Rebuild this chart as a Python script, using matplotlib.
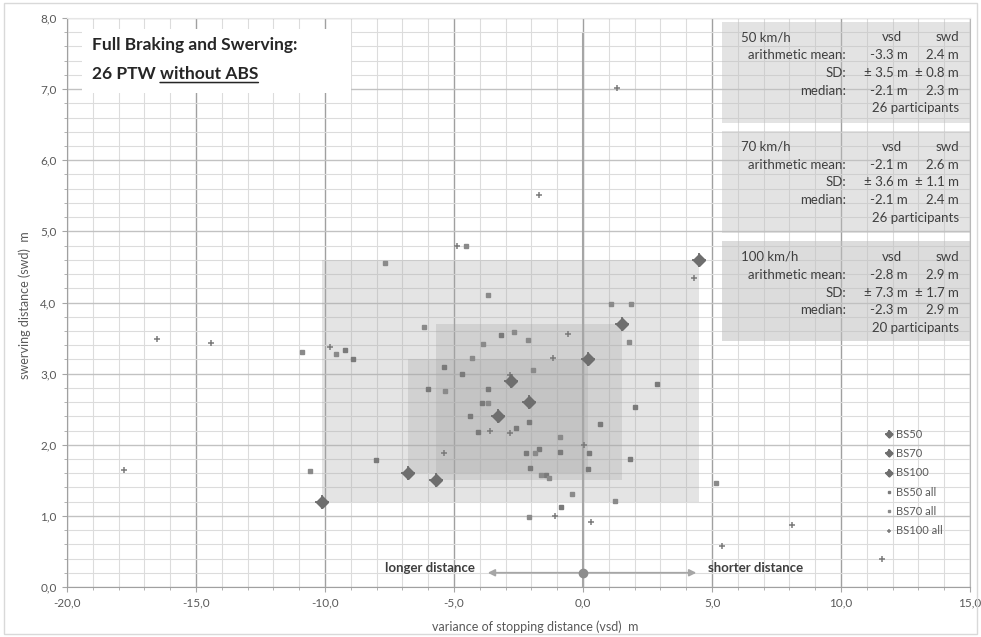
import matplotlib
matplotlib.use("Agg")
import matplotlib.pyplot as plt
from matplotlib.patches import Rectangle
from matplotlib.ticker import MultipleLocator, FuncFormatter
from matplotlib.legend_handler import HandlerTuple

plt.rcParams["font.family"] = ["Lato", "DejaVu Sans"]

# ---- summary statistics per speed (vsd / swd in m) ----
speeds = ["50 km/h", "70 km/h", "100 km/h"]
series_names = ["BS50", "BS70", "BS100"]
mean_vsd = [-3.3, -2.1, -2.8]
mean_swd = [2.4, 2.6, 2.9]
sd_vsd = [3.5, 3.6, 7.3]
sd_swd = [0.8, 1.1, 1.7]
median_vsd = [-2.1, -2.1, -2.3]
median_swd = [2.3, 2.4, 2.9]
participants = [26, 26, 20]

# ---- individual runs ----
bs50_all_vsd = [-9.22, -8.91, -8.02, -6.0, -5.37, -4.70, -4.38, -4.06, -3.90, -3.69,
                -3.17, -2.58, -2.20, -2.09, -2.05, -1.72, -1.45, -0.84, -0.90, 0.21,
                0.22, 0.64, 1.81, 2.02, 2.87]
bs50_all_swd = [3.33, 3.20, 1.79, 2.78, 3.09, 2.99, 2.41, 2.18, 2.59, 2.78,
                3.54, 2.23, 1.88, 2.32, 1.68, 1.94, 1.58, 1.12, 1.90, 1.66,
                1.88, 2.29, 1.80, 2.53, 2.85]

bs70_all_vsd = [-9.59, -10.9, -10.6, -7.67, -6.15, -5.35, -4.53, -4.29, -3.88, -3.69,
                -3.69, -2.69, -2.12, -2.11, -1.95, -1.85, -1.61, -1.32, -0.90, -0.43,
                1.07, 1.24, 1.77, 1.85, 5.16]
bs70_all_swd = [3.27, 3.31, 1.63, 4.56, 3.66, 2.76, 4.80, 3.22, 3.41, 4.10,
                2.59, 3.59, 3.47, 0.99, 3.05, 1.88, 1.58, 1.53, 2.11, 1.31,
                3.98, 1.21, 3.45, 3.98, 1.46]

bs100_all_vsd = [1.32, -1.7, -4.88, -16.5, -14.4, -17.8, 11.58, 8.09, 5.37, 4.30,
                 -9.82, -0.57, -1.17, -2.83, -3.60, -2.84, 0.05, -5.40, -1.07, 0.31]
bs100_all_swd = [7.02, 5.51, 4.80, 3.48, 3.43, 1.65, 0.40, 0.87, 0.58, 4.35,
                 3.38, 3.56, 3.22, 2.98, 2.19, 2.17, 2.00, 1.89, 1.00, 0.91]

x_ticks = [-20, -15, -10, -5, 0, 5, 10, 15]
y_ticks = [0, 1, 2, 3, 4, 5, 6, 7, 8]

TXT = "#3f3f3f"
TICK = "#595959"

fig = plt.figure(figsize=(9.81, 6.37), dpi=100)
fig.patches.append(Rectangle((0.004, 0.004), 0.992, 0.992, transform=fig.transFigure,
                             fill=False, ec="#d9d9d9", lw=1))
ax = fig.add_axes([0.0683, 0.0785, 0.9205, 0.8932])
ax.set_xlim(x_ticks[0], x_ticks[-1])
ax.set_ylim(y_ticks[0], y_ticks[-1])

ax.set_xticks(x_ticks)
ax.set_yticks(y_ticks)
ax.xaxis.set_minor_locator(MultipleLocator(1))
ax.yaxis.set_minor_locator(MultipleLocator(0.2))
fmt = FuncFormatter(lambda v, p: f"{v:.1f}".replace(".", ","))
ax.xaxis.set_major_formatter(fmt)
ax.yaxis.set_major_formatter(fmt)
ax.set_axisbelow(True)
ax.grid(which="minor", color="#dcdcdc", lw=0.8)
ax.xaxis.grid(which="major", color="#a0a0a0", lw=1.0)
ax.yaxis.grid(which="major", color="#c2c2c2", lw=1.0)
ax.tick_params(which="both", direction="out", color="#a6a6a6", labelsize=8.5,
               labelcolor=TICK)
ax.tick_params(which="major", length=3.5, pad=4)
ax.tick_params(which="minor", length=2.5)
for side, col in [("left", "#a0a0a0"), ("bottom", "#a0a0a0"), ("right", "#b8b8b8"),
                  ("top", "#e6e6e6")]:
    ax.spines[side].set_color(col)

ax.set_xlabel("variance of stopping distance (vsd)  m", fontsize=9, color=TICK)
ax.set_ylabel("swerving distance (swd)  m", fontsize=9, color=TICK)
ax.xaxis.set_label_coords(0.518, -0.058)
ax.yaxis.set_label_coords(-0.040, 0.496)

# mean +/- SD areas
for mv, ms_, sv, ss in zip(mean_vsd, mean_swd, sd_vsd, sd_swd):
    ax.add_patch(Rectangle((mv - sv, ms_ - ss), 2 * sv, 2 * ss, fc="#a6a6a6",
                           alpha=0.3, lw=0, zorder=1))

# zero reference line and direction arrows
ax.plot([0, 0], [0, 7.78], color="#a6a6a6", lw=1.5, zorder=2)
ax.annotate("", xy=(-3.8, 0.2), xytext=(0, 0.2),
            arrowprops=dict(arrowstyle="-|>", color="#a6a6a6", lw=1.3,
                            mutation_scale=10), zorder=3)
ax.annotate("", xy=(4.5, 0.2), xytext=(0, 0.2),
            arrowprops=dict(arrowstyle="-|>", color="#a6a6a6", lw=1.3,
                            mutation_scale=10), zorder=3)
ax.plot([0], [0.2], "o", color="#8c8c8c", ms=6, zorder=4)
ax.text(-4.2, 0.27, "longer distance", ha="right", va="center", fontsize=9.5,
        fontweight="bold", color=TXT, zorder=5)
ax.text(4.85, 0.27, "shorter distance", ha="left", va="center", fontsize=9.5,
        fontweight="bold", color=TXT, zorder=5)

# individual runs
h50a, = ax.plot(bs50_all_vsd, bs50_all_swd, ls="none", marker="s", ms=3,
                color="#7a7a7a", zorder=4)
h70a, = ax.plot(bs70_all_vsd, bs70_all_swd, ls="none", marker="s", ms=3,
                color="#8a8a8a", zorder=4)
h100a, = ax.plot(bs100_all_vsd, bs100_all_swd, ls="none", marker="+", ms=4,
                 mew=1.1, color="#7a7a7a", zorder=4)

# mean and +/- SD corners per speed
summary_handles = []
for name, mv, ms_, sv, ss in zip(series_names, mean_vsd, mean_swd, sd_vsd, sd_swd):
    xs = [mv - sv, mv, mv + sv]
    ys = [ms_ - ss, ms_, ms_ + ss]
    hd, = ax.plot(xs, ys, ls="none", marker="D", ms=6, color="#6e6e6e", zorder=5)
    hp, = ax.plot(xs, ys, ls="none", marker="+", ms=10, mew=1.3, color="#6e6e6e",
                  zorder=5)
    summary_handles.append((hd, hp))

leg = ax.legend(summary_handles + [h50a, h70a, h100a],
                series_names + ["BS50 all", "BS70 all", "BS100 all"],
                handler_map={tuple: HandlerTuple(ndivide=1)},
                loc="upper left", bbox_to_anchor=(0.905, 0.278), frameon=False,
                fontsize=8, handlelength=0.8, handletextpad=0.3, labelspacing=0.75,
                borderpad=0, borderaxespad=0, markerscale=0.6)
for t in leg.get_texts():
    t.set_color(TICK)

# statistics panels
box_tops = [7.95, 6.41, 4.86]
box_bottoms = [6.52, 4.98, 3.46]
box_alpha = [0.43, 0.43, 0.55]
X_HEAD, X_LAB, X_VSD, X_SWD = 6.12, 10.2, 12.6, 14.57
STEP = 0.25
for i in range(3):
    ax.add_patch(Rectangle((5.39, box_bottoms[i]), x_ticks[-1] - 5.39,
                           box_tops[i] - box_bottoms[i], fc="#c0c0c0",
                           alpha=box_alpha[i], lw=0, zorder=2))
    y0 = box_tops[i] - 0.22
    kw = dict(fontsize=9.5, color=TXT, va="center", zorder=6)
    ax.text(X_HEAD, y0, speeds[i], ha="left", **kw)
    ax.text(11.98, y0, "vsd", ha="center", **kw)
    ax.text(X_SWD, y0, "swd", ha="right", **kw)
    rows = [("arithmetic mean:", f"{mean_vsd[i]:.1f} m", f"{mean_swd[i]:.1f} m"),
            ("SD:", f"\u00b1 {sd_vsd[i]:.1f} m", f"\u00b1 {sd_swd[i]:.1f} m"),
            ("median:", f"{median_vsd[i]:.1f} m", f"{median_swd[i]:.1f} m")]
    for r, (lab, v1, v2) in enumerate(rows):
        yy = y0 - STEP * (r + 1)
        ax.text(X_LAB, yy, lab, ha="right", **kw)
        ax.text(X_VSD, yy, v1, ha="right", **kw)
        ax.text(X_SWD, yy, v2, ha="right", **kw)
    ax.text(X_SWD, y0 - STEP * 4, f"{participants[i]} participants", ha="right", **kw)

# title panel
ax.add_patch(Rectangle((-19.4, 6.94), 10.4, 0.91, fc="white", lw=0, zorder=3))
tkw = dict(fontsize=12.5, fontweight="bold", color="#262626", zorder=6)
ax.text(-19.03, 7.62, "Full Braking and Swerving:", ha="left", va="center", **tkw)
t1 = ax.text(-19.03, 7.21, "26 PTW ", ha="left", va="center", **tkw)
t2 = ax.annotate("without ABS", xy=(1, 0), xycoords=t1, ha="left", va="bottom",
                 **tkw)
ax.annotate("", xy=(0, -0.02), xycoords=t2, xytext=(1, -0.02), textcoords=t2,
            arrowprops=dict(arrowstyle="-", color="#262626", lw=1.1,
                            shrinkA=0, shrinkB=0), zorder=6)

fig.savefig("out.png", dpi=100)
